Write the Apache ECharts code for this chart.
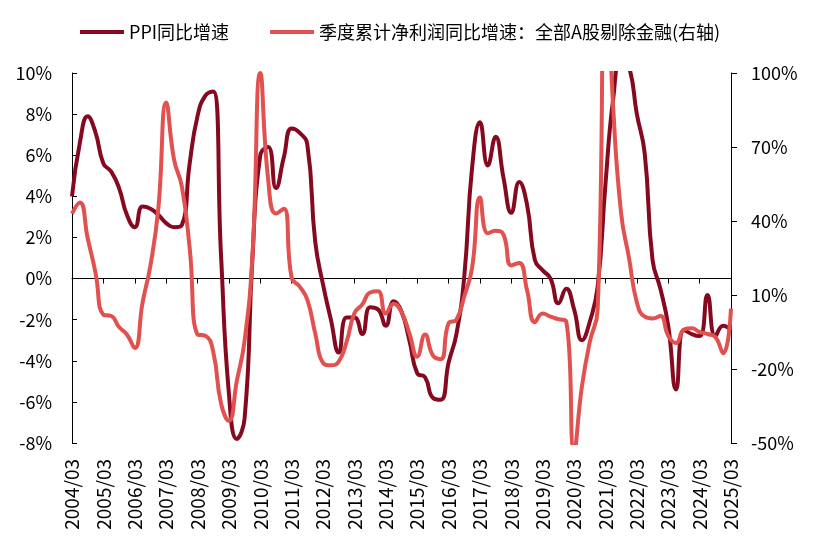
<!DOCTYPE html>
<html>
<head>
<meta charset="utf-8">
<script src="https://cdn.jsdelivr.net/npm/echarts@6/dist/echarts.min.js"></script>
<style>
html,body{margin:0;padding:0;background:#fff;}
#chart{width:813px;height:545px;}
</style>
</head>
<body>
<div id="chart"></div>
<script>
// Quarterly categories 2004/03 .. 2025/03
var startYear = 2004, endYear = 2025;
var quarterMonths = ['03', '06', '09', '12'];
var categories = [];
for (var y = startYear; y <= endYear; y++) {
  for (var q = 0; q < 4; q++) {
    if (y === endYear && q > 0) break;
    categories.push(y + '/' + quarterMonths[q]);
  }
}

var seriesNames = ['PPI同比增速', '季度累计净利润同比增速：全部A股剔除金融(右轴)'];

// PPI YoY (%), left axis
var ppiValues = [
  4.0, 6.6, 7.9, 7.1,
  5.6, 5.2, 4.4, 3.1,
  2.5, 3.5, 3.4, 3.1,
  2.7, 2.5, 2.6, 5.6,
  7.9, 8.9, 9.1, 1.1,
  -5.6, -7.8, -6.8, 1.0,
  6.0, 6.4, 4.4, 5.9,
  7.3, 7.1, 6.5, 1.8,
  -0.3, -2.0, -3.6, -1.9,
  -1.9, -2.7, -1.4, -1.5,
  -2.3, -1.1, -1.6, -3.0,
  -4.6, -4.8, -5.8, -5.9,
  -4.1, -2.7, 0.1, 5.4,
  7.6, 5.5, 6.9, 4.9,
  3.2, 4.7, 3.6, 0.9,
  0.4, 0.0, -1.2, -0.5,
  -1.5, -3.0, -2.1, -0.4,
  4.6, 8.8, 10.7, 10.3,
  8.0, 6.1, 0.9, -0.5,
  -2.3, -5.4, -2.5, -2.7,
  -2.8, -0.8, -2.8, -2.3,
  -2.5
];

// Cumulative quarterly net profit YoY (%), all A-shares ex-financials, right axis
var profitValues = [
  43, 47.5, 33, 19,
  2, 1.5, -3, -6,
  -11.5, 7, 22, 45,
  88, 65, 54, 29,
  -6, -6.5, -13, -34,
  -41, -25, -8.5, 26,
  100, 57, 43, 45,
  17, 13.5, 8, -5.5,
  -17.5, -18.5, -17, -9,
  2.6, 6.2, 11, 11.5,
  2.5, 6.5, 3, -5.5,
  -15, -6, -14.5, -16,
  -1.5, 0, 9.5, 21,
  49.5, 35, 36, 34.5,
  22, 23, 12, -1,
  2.5, 1.2, 0.2, -0.8,
  -53, -27, -9, 4,
  150, 85, 43, 25,
  7, 1.2, 0.5, 1.5,
  -6.5, -9.5, -4, -3.5,
  -5, -5.8, -7, -13.6,
  4.5
];

var leftTicks = {min: -8, max: 10, interval: 2};
var rightTicks = {min: -50, max: 100, interval: 30};

var FONT = 'Noto Sans CJK SC';
var chart = echarts.init(document.getElementById('chart'), null, {renderer: 'canvas'});
chart.setOption({
  animation: false,
  backgroundColor: '#fff',
  textStyle: {fontFamily: FONT},
  legend: {
    data: seriesNames,
    left: 75,
    top: 18,
    icon: 'rect',
    itemWidth: 44,
    itemHeight: 4,
    itemGap: 41,
    textStyle: {fontSize: 18, color: '#000', fontFamily: FONT}
  },
  grid: {left: 72, right: 82, top: 73, bottom: 102, containLabel: false},
  xAxis: [
    {
      type: 'category',
      data: categories,
      boundaryGap: false,
      position: 'bottom',
      axisLine: {show: false, onZero: false},
      axisTick: {show: false},
      axisLabel: {rotate: 90, interval: 3, margin: 16, fontSize: 19, color: '#000', fontFamily: FONT},
      splitLine: {show: false}
    },
    {
      type: 'category',
      data: categories,
      boundaryGap: false,
      position: 'bottom',
      axisLine: {show: true, onZero: true, onZeroAxisIndex: 0, lineStyle: {color: '#000', width: 1}},
      axisTick: {show: true, interval: 3, length: 5, inside: false, lineStyle: {color: '#000'}},
      axisLabel: {show: false},
      splitLine: {show: false}
    }
  ],
  yAxis: [
    {
      type: 'value',
      position: 'left',
      min: leftTicks.min, max: leftTicks.max, interval: leftTicks.interval,
      axisLine: {show: true, lineStyle: {color: '#000', width: 1}},
      axisTick: {show: true, inside: true, length: 5, lineStyle: {color: '#000'}},
      axisLabel: {formatter: '{value}%', margin: 20, fontSize: 18, color: '#000', fontFamily: FONT},
      splitLine: {show: false}
    },
    {
      type: 'value',
      position: 'right',
      min: rightTicks.min, max: rightTicks.max, interval: rightTicks.interval,
      axisLine: {show: true, lineStyle: {color: '#000', width: 1}},
      axisTick: {show: true, inside: false, length: 6, lineStyle: {color: '#000'}},
      axisLabel: {formatter: '{value}%', margin: 20, fontSize: 18, color: '#000', fontFamily: FONT},
      splitLine: {show: false}
    }
  ],
  series: [
    {
      name: seriesNames[0],
      type: 'line',
      xAxisIndex: 0,
      yAxisIndex: 0,
      data: ppiValues,
      smooth: 0.5,
      symbol: 'none',
      clip: true,
      lineStyle: {width: 4, color: '#860A1F'},
      itemStyle: {color: '#860A1F'}
    },
    {
      name: seriesNames[1],
      type: 'line',
      xAxisIndex: 0,
      yAxisIndex: 1,
      data: profitValues,
      smooth: 0.5,
      symbol: 'none',
      clip: true,
      lineStyle: {width: 4, color: '#E0514F'},
      itemStyle: {color: '#E0514F'}
    }
  ]
});
</script>
</body>
</html>
